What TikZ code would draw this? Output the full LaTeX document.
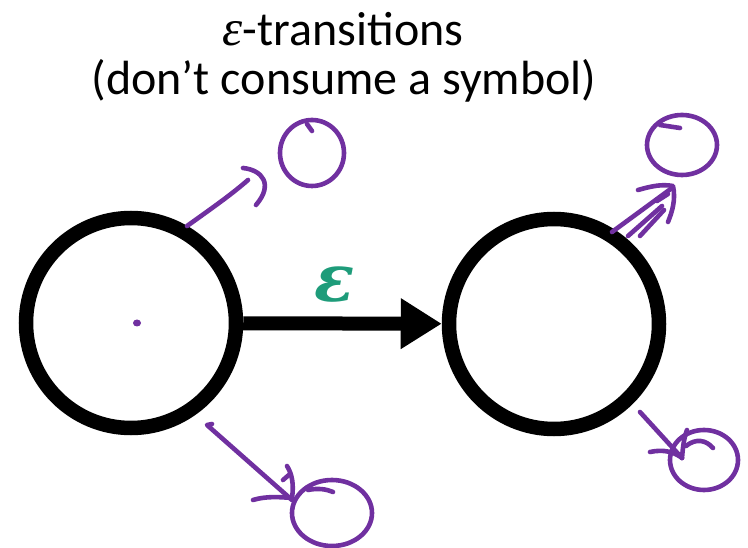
\documentclass[tikz,border=0pt]{standalone}
\usepackage{fontspec}
\setmainfont{Carlito}
\newfontfamily\epsserif{Liberation Serif}
\newfontfamily\epsbold{DejaVu Serif}
\usetikzlibrary{arrows.meta,shapes.geometric}
\definecolor{sketch}{HTML}{7030A0}
\definecolor{epsgreen}{HTML}{1E9C7A}
\begin{document}
\begin{tikzpicture}[x=1pt,y=-1pt,
  state/.style={circle,draw=black,line width=14.5pt,minimum size=210pt,inner sep=0pt},
  pen/.style={draw=sketch,line width=4.6pt,line cap=round,line join=round},
  blob/.style={ellipse,draw=sketch,line width=4.6pt,inner sep=0pt},
  title/.style={font=\fontsize{48}{56}\selectfont,inner sep=0pt}]
\useasboundingbox (0,0) rectangle (748,548);
% title
\node[title,anchor=base] (t1) at (343,46) {{\epsserif\itshape\fontsize{51}{56}\selectfont ε}-transitions};
\node[title,anchor=base] (t2) at (344,95) {(don’t consume a symbol)};
% states
\node[state] (q0) at (131,323) {};
\node[state] (q1) at (554,324) {};
\draw[line width=14pt,-{Triangle[length=41pt,width=48pt]}] (q0) -- (q1);
\node[text=epsgreen,font=\epsbold\bfseries\itshape\fontsize{66}{66}\selectfont,inner sep=0pt] (eps) at (335,285) {ε};
% dot in q0
\fill[sketch] (137,323) ellipse (4pt and 3.5pt);
% sketch 1 (top left)
\node[blob,minimum width=64pt,minimum height=66pt] (s1) at (312,153) {};
\draw[pen] (187,226) .. controls (215,206) and (232,194) .. (248,180);
\draw[pen] (243,168) .. controls (262,170) and (274,184) .. (256,205);
\draw[pen] (307,124) -- (312,131);
% sketch 2 (top right)
\node[blob,minimum width=70pt,minimum height=60pt] (s2) at (682,145) {};
\draw[pen] (612,232) -- (672,188);
\draw[pen] (628,236) -- (662,206);
\draw[pen] (640,236) -- (664,210);
\draw[pen] (638,190) .. controls (652,186) and (662,184) .. (673,186) .. controls (676,200) and (672,212) .. (668,222);
\draw[pen] (657,201) -- (668,194);
\draw[pen] (660,125) -- (680,128);
% sketch 3 (bottom left)
\node[blob,minimum width=80pt,minimum height=66pt] (s3) at (332,513) {};
\draw[pen] (212,424) -- (207,425) -- (292,500);
\draw[pen] (253,500) .. controls (266,496) and (280,497) .. (292,498);
\draw[pen] (292,498) .. controls (294,484) and (292,474) .. (287,466);
\draw[pen] (283,480) -- (290,474);
\draw[pen] (308,490) .. controls (318,488) and (326,489) .. (333,492);
% sketch 4 (bottom right)
\node[blob,minimum width=68pt,minimum height=60pt] (s4) at (704,460) {};
\draw[pen] (640,412) -- (682,458);
\draw[pen] (650,452) .. controls (664,449) and (674,452) .. (682,458);
\draw[pen] (682,458) .. controls (683,446) and (684,438) .. (687,430);
\draw[pen] (686,446) .. controls (696,438) and (706,440) .. (713,448);
\end{tikzpicture}
\end{document}
